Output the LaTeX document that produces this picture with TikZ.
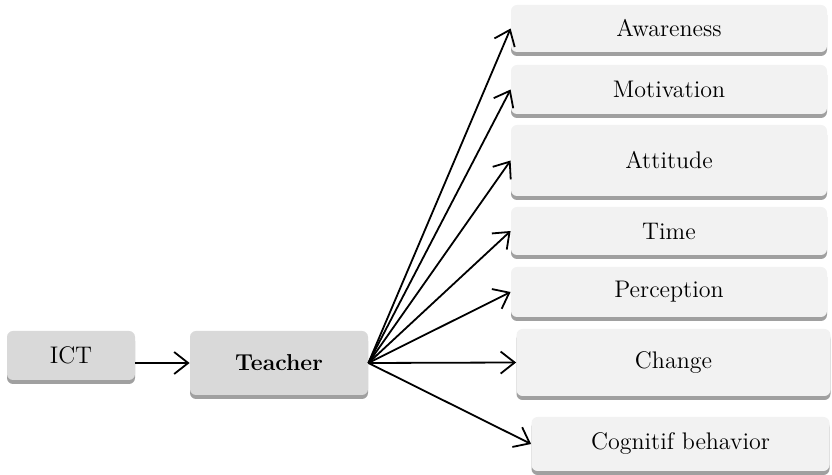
\documentclass[tikz,border=0pt]{standalone}
\usetikzlibrary{arrows.meta,shadows}
\definecolor{darkbox}{HTML}{D9D9D9}
\definecolor{lightbox}{HTML}{F2F2F2}
\definecolor{shadowgray}{HTML}{A0A0A0}
\begin{document}
\begin{tikzpicture}[x=0.5pt,y=-0.5pt,
  box/.style={rounded corners=3pt, inner sep=0pt, font=\fontsize{12}{14}\selectfont,
    drop shadow={shadow xshift=0pt, shadow yshift=-2pt, fill=shadowgray, opacity=1}},
  mainbox/.style={box, fill=darkbox},
  itembox/.style={box, fill=lightbox},
  link/.style={line width=0.9pt, -{Straight Barb[length=7pt,width=11pt,line width=0.9pt]}}]
\useasboundingbox (0,0) rectangle (832,475);
\node[mainbox, minimum width=64pt, minimum height=24.5pt] (ict) at (71,355.5) {ICT};
\node[mainbox, minimum width=89pt, minimum height=32pt, font=\fontsize{11.5}{14}\selectfont\bfseries] (teacher) at (279,363) {Teacher};
\node[itembox, minimum width=158pt, minimum height=23.5pt] (aw) at (669,28.5) {Awareness};
\node[itembox, minimum width=158pt, minimum height=24.5pt] (mo) at (669,89.5) {Motivation};
\node[itembox, minimum width=158pt, minimum height=35.5pt] (at) at (669,160.5) {Attitude};
\node[itembox, minimum width=158pt, minimum height=24pt] (ti) at (669,231) {Time};
\node[itembox, minimum width=158pt, minimum height=25pt] (pe) at (669,292) {Perception};
\node[itembox, minimum width=157pt, minimum height=33.5pt] (ch) at (673.5,362.5) {Change};
\node[itembox, minimum width=149pt, minimum height=27pt] (co) at (680.5,444) {Cognitif behavior};
\draw[link] (ict.east |- teacher.west) -- (teacher.west);
\foreach \t in {aw,mo,at,ti,pe,ch,co}
  \draw[link] (teacher.east) -- (\t.west);
\end{tikzpicture}
\end{document}
